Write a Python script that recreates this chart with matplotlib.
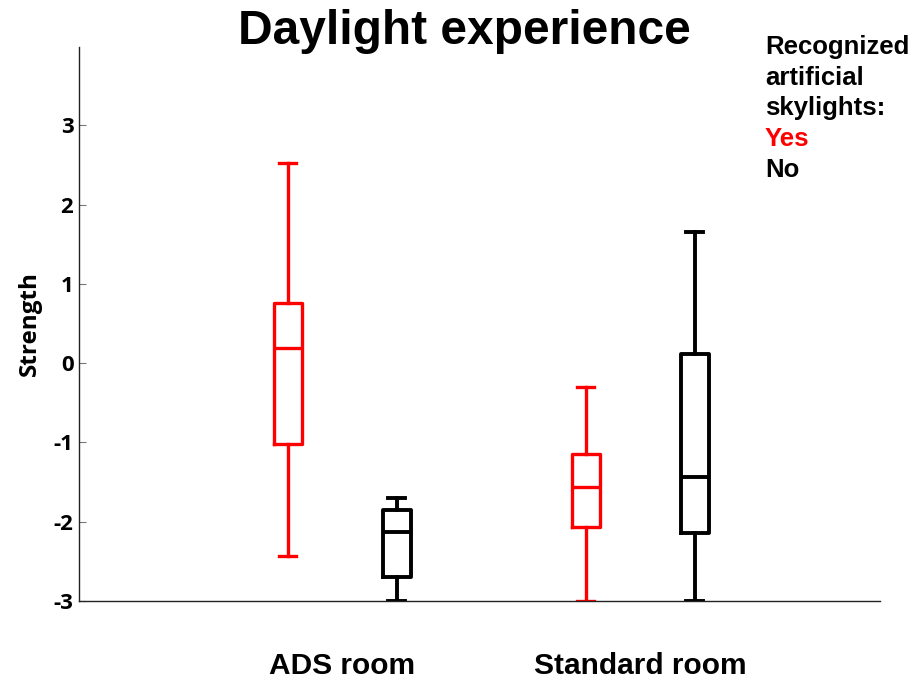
import matplotlib.pyplot as plt

# box statistics (whisker low, Q1, median, Q3, whisker high)
groups = ["ADS room", "Standard room"]
yes_stats = [[-2.43, -1.02, 0.19, 0.76, 2.52],
             [-3.00, -2.07, -1.56, -1.15, -0.30]]
no_stats = [[-3.00, -2.70, -2.13, -1.85, -1.70],
            [-3.00, -2.14, -1.44, 0.11, 1.65]]
yticks = [-3, -2, -1, 0, 1, 2, 3]

tick_font = "Open Sans"
text_font = "Liberation Sans"


def to_bxp(vals):
    return dict(whislo=vals[0], q1=vals[1], med=vals[2], q3=vals[3], whishi=vals[4], fliers=[])


fig = plt.figure(figsize=(9.15, 6.82), dpi=100)
ax = fig.add_axes([0.0863, 0.1188, 0.8754, 0.8123])

centers = [1, 2]
off = 0.183
for stats, color, shift, lw in [(yes_stats, "red", -off, 2.4), (no_stats, "black", off, 2.8)]:
    pos = [c + shift for c in centers]
    ax.bxp([to_bxp(s) for s in stats], positions=pos, widths=0.094, capwidths=0.058,
           showfliers=False,
           boxprops=dict(color=color, linewidth=lw),
           whiskerprops=dict(color=color, linewidth=lw),
           capprops=dict(color=color, linewidth=lw),
           medianprops=dict(color=color, linewidth=lw))

ax.set_xlim(0.117, 2.805)
ax.set_ylim(-3, 3.99)
ax.set_xticks([])
ax.set_yticks(yticks)
ax.set_yticklabels([str(t) for t in yticks], fontfamily=tick_font, fontweight="bold", fontsize=16)
ax.tick_params(axis="y", direction="in", length=5, width=0.8, color="#777777", pad=4)
for s in ["top", "right"]:
    ax.spines[s].set_visible(False)
for s in ["left", "bottom"]:
    ax.spines[s].set_linewidth(1.0)
    ax.spines[s].set_color("#222222")
ax.set_ylabel("Strength", fontfamily=tick_font, fontweight="bold", fontsize=17.5, labelpad=8)

for c, g in zip(centers, groups):
    ax.text(c, -3.92, g, ha="center", va="baseline", fontfamily=text_font,
            fontweight="bold", fontsize=21.5)

fig.text(464 / 915, 1 - 32 / 682, "Daylight experience", ha="center", va="center",
         fontfamily=text_font, fontweight="bold", fontsize=34.5)

legend_lines = [("Recognized", "black"), ("artificial", "black"), ("skylights:", "black"),
                ("Yes", "red"), ("No", "black")]
for i, (txt, col) in enumerate(legend_lines):
    fig.text(765 / 915, 1 - (47 + i * 30.7) / 682, txt, ha="left", va="center",
             fontfamily=text_font, fontweight="bold", fontsize=18.5, color=col)

fig.savefig("out.png", dpi=100)
